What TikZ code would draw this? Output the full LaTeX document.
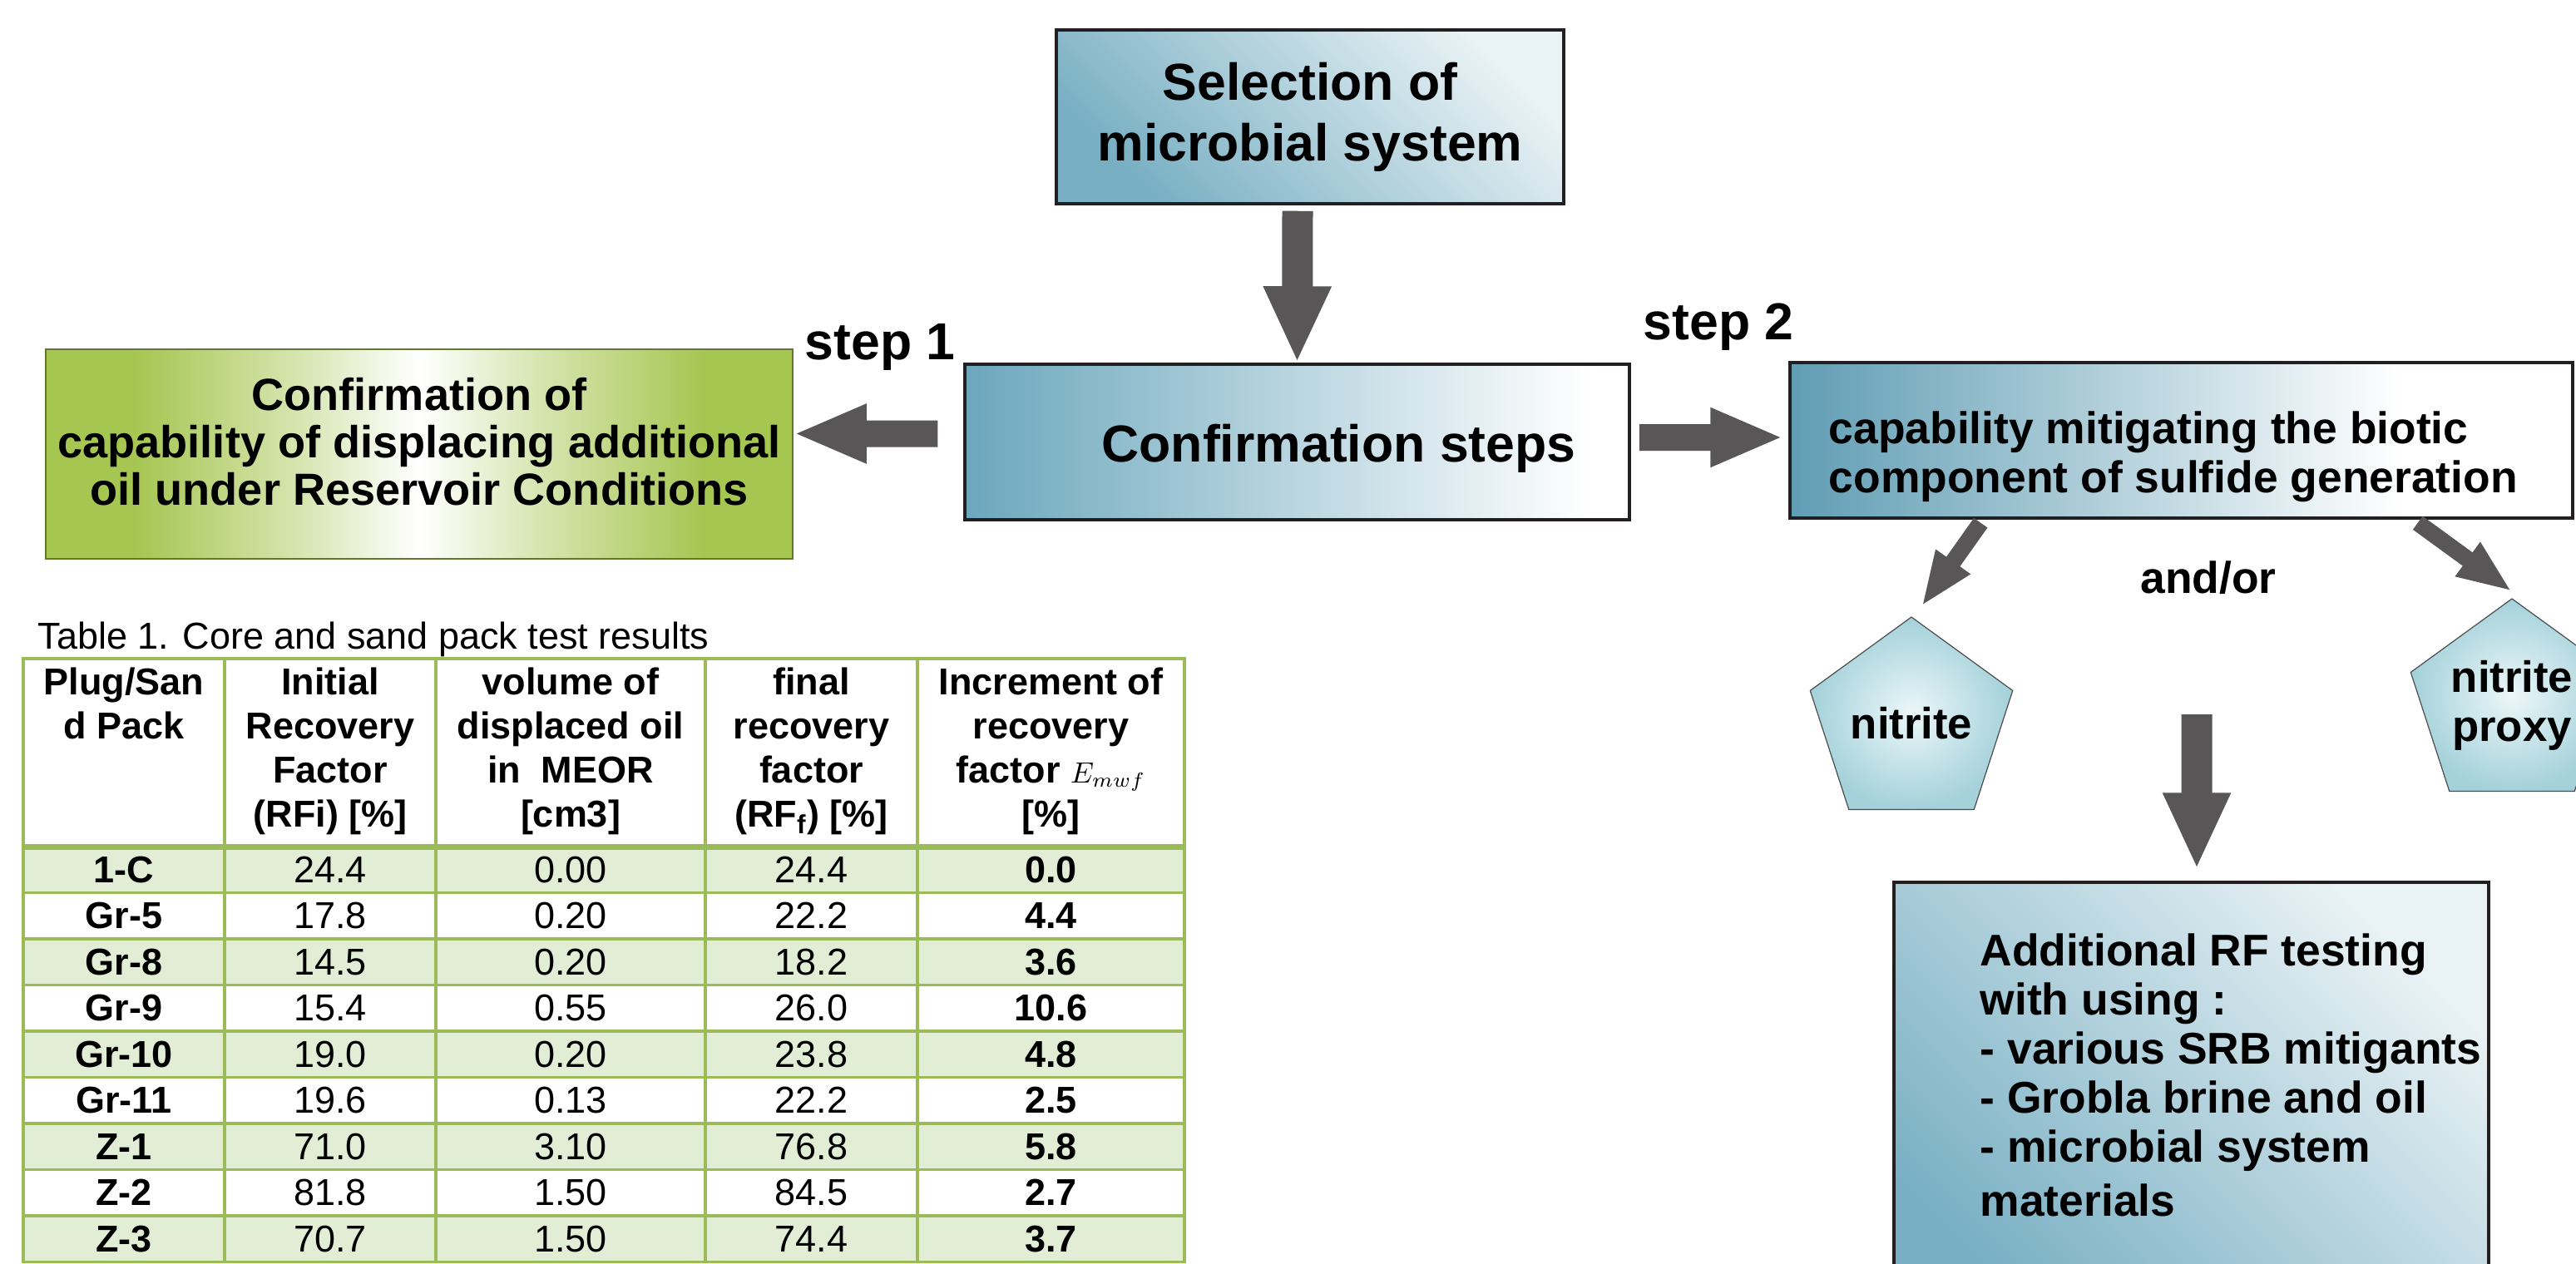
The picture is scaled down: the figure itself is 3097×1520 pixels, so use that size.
\documentclass[tikz,border=0pt]{standalone}
\usepackage{fontspec}
\setmainfont{Liberation Sans}
\usetikzlibrary{shapes.geometric,arrows.meta}

\definecolor{boxgreen}{RGB}{166,198,82}
\definecolor{tealdark}{RGB}{96,157,180}
\definecolor{tealmid}{RGB}{108,167,189}
\definecolor{tealsoft}{RGB}{120,175,195}
\definecolor{tealpale}{RGB}{233,242,245}
\definecolor{pentin}{RGB}{236,247,249}
\definecolor{pentout}{RGB}{164,209,218}
\definecolor{arrowgray}{RGB}{88,86,86}
\definecolor{gridgreen}{RGB}{155,187,89}
\definecolor{rowgreen}{RGB}{226,237,214}
\definecolor{boxline}{RGB}{35,31,32}

\pgfdeclarehorizontalshading{greenglow}{100bp}{color(0bp)=(boxgreen); color(31bp)=(boxgreen); color(42bp)=(boxgreen!45!white); color(50bp)=(white); color(58bp)=(boxgreen!45!white); color(69bp)=(boxgreen); color(100bp)=(boxgreen)}
\pgfdeclarehorizontalshading{capfade}{100bp}{color(0bp)=(tealdark); color(25bp)=(tealdark); color(64bp)=(white); color(100bp)=(white)}
\pgfdeclarehorizontalshading{conffade}{100bp}{color(0bp)=(tealmid); color(25bp)=(tealmid); color(72bp)=(white); color(100bp)=(white)}

\tikzset{
    flowbox/.style={draw=boxline, line width=0.35mm, inner sep=0pt},
    bigtext/.style={font=\fontsize{17.8}{20.8}\selectfont\bfseries, inner sep=0pt},
    midtext/.style={font=\fontsize{15.2}{16.8}\selectfont\bfseries, inner sep=0pt},
    pent/.style={regular polygon, regular polygon sides=5, inner sep=0pt, draw=black!70, line width=0.12mm,
        inner color=pentin, outer color=pentout, align=center, font=\fontsize{15}{16.8}\selectfont\bfseries},
    fatarrow/.style={draw=arrowgray, line width=3.7mm, -{Triangle[width=7.5mm,length=9.2mm]}},
    sidearrow/.style={draw=arrowgray, line width=3.2mm, -{Triangle[width=6.5mm,length=8.8mm]}},
    thinarrow/.style={draw=arrowgray, line width=2mm, -{Triangle[width=4.6mm,length=6.6mm]}},
    tabhead/.style={font=\fontsize{12.8}{15.1}\selectfont\bfseries, align=center, anchor=north, inner sep=0pt},
    tabid/.style={font=\fontsize{12.8}{15}\selectfont\bfseries},
    tabnum/.style={font=\fontsize{12.8}{15}\selectfont},
    tabgrid/.style={draw=gridgreen, line width=0.35mm}
}

\begin{document}
\begin{tikzpicture}[x=0.1mm, y=-0.1mm]
    \useasboundingbox (0,0) rectangle (3097,1520);

    % boxes of the flow chart
    \node[flowbox, bigtext, align=center, minimum width=61mm, minimum height=20.9mm,
        top color=tealpale, bottom color=tealsoft, shading angle=-45] (sel) at (1575,140.5) {Selection of\\microbial system};

    \node[flowbox, minimum width=79.9mm, minimum height=18.7mm, shade, shading=conffade] (conf) at (1559.5,531.5) {};
        \node[bigtext] (conftext) at ([xshift=5mm,yshift=-0.8mm]conf.center) {Confirmation steps};

    \node[flowbox, draw=boxgreen!60!black, line width=0.15mm, minimum width=89.8mm, minimum height=25.2mm,
        shade, shading=greenglow] (green) at (504,546) {};
        \node[midtext, font=\fontsize{15.4}{16.2}\selectfont\bfseries, align=center, anchor=north] (greentext) at (504,454)
            {Confirmation of\\capability of displacing additional\\oil under Reservoir Conditions};

    \node[flowbox, minimum width=94.1mm, minimum height=18.7mm, shade, shading=capfade] (cap) at (2622.5,529.5) {};
        \node[midtext, align=left, anchor=north west] (captext) at (2198,494)
            {capability mitigating the biotic\\component of sulfide generation};

    \node[flowbox, minimum width=71.5mm, minimum height=53.9mm,
        top color=tealpale, bottom color=tealsoft, shading angle=-45] (add) at (2634.5,1330.5) {};
        \node[midtext, align=left, anchor=north west] (addtext) at (2380,1122)
            {Additional RF testing\\with using :\\- various SRB mitigants\\- Grobla brine and oil\\- microbial system\\[0.6mm]materials};

    \node[pent, minimum size=24.6mm] (nit) at (2298,870) {nitrite};
    \node[pent, minimum size=24.4mm] (prox) at (3020,848) {nitrite\\proxy};

    \node[bigtext, anchor=base west] (step1) at (967,432) {step 1};
    \node[bigtext, anchor=base west] (step2) at (1975,408) {step 2};
    \node[midtext] (andor) at (2655,695) {and/or};

    % arrows
    \draw[fatarrow] ([xshift=-1.5mm,yshift=-0.7mm]sel.south) -- (conf.north);
    \draw[sidearrow] ([xshift=-3.1mm,yshift=1mm]conf.west) -- ([yshift=2.45mm]green.east);
    \draw[sidearrow] ([xshift=1mm,yshift=0.55mm]conf.east) -- ([xshift=-0.6mm,yshift=0.35mm]cap.west);
    \draw[thinarrow] ([xshift=23.1mm,yshift=-0.4mm]cap.south west) -- ([xshift=1.2mm,yshift=1.2mm]nit.north);
    \draw[thinarrow] ([xshift=-18.8mm,yshift=-0.4mm]cap.south east) -- ([yshift=0.8mm]prox.north);
    \coordinate (split) at (2641,859);
    \draw[fatarrow] (split) -- ([xshift=0.65mm,yshift=1.4mm]add.north);

    % table
    \node[anchor=base west, inner sep=0pt, font=\fontsize{12.8}{15}\selectfont] (caption) at (45,780)
        {Table 1. Core and sand pack test results};

    \fill[rowgreen] (28,1018) rectangle (1424,1073.5);
    \fill[rowgreen] (28,1129) rectangle (1424,1184.5);
    \fill[rowgreen] (28,1240) rectangle (1424,1295.5);
    \fill[rowgreen] (28,1351) rectangle (1424,1406.5);
    \fill[rowgreen] (28,1462) rectangle (1424,1517.5);

    \draw[tabgrid] (28,792) rectangle (1424,1517.5);
    \draw[tabgrid] (270,792) -- (270,1517.5);
    \draw[tabgrid] (524,792) -- (524,1517.5);
    \draw[tabgrid] (848,792) -- (848,1517.5);
    \draw[tabgrid] (1103,792) -- (1103,1517.5);
    \draw[tabgrid, line width=0.7mm] (28,1018) -- (1424,1018);
    \draw[tabgrid] (28,1073.5) -- (1424,1073.5);
    \draw[tabgrid] (28,1129) -- (1424,1129);
    \draw[tabgrid] (28,1184.5) -- (1424,1184.5);
    \draw[tabgrid] (28,1240) -- (1424,1240);
    \draw[tabgrid] (28,1295.5) -- (1424,1295.5);
    \draw[tabgrid] (28,1351) -- (1424,1351);
    \draw[tabgrid] (28,1406.5) -- (1424,1406.5);
    \draw[tabgrid] (28,1462) -- (1424,1462);

    \node[tabhead] (h1) at (149,802) {Plug/San\\d Pack};
    \node[tabhead] (h2) at (397,802) {Initial\\Recovery\\Factor\\(RFi) [\%]};
    \node[tabhead] (h3) at (686,802) {volume of\\displaced oil\\in~ MEOR\\{}[cm3]};
    \node[tabhead] (h4) at (975.5,802) {final\\recovery\\factor\\(RF\textsubscript{f}) [\%]};
    \node[tabhead] (h5) at (1263.5,802) {Increment of\\recovery\\factor {\fontsize{10}{10}\selectfont$E_{mwf}$}\\{}[\%]};

    \node[tabid] (a1) at (149,1045.75) {1-C};   \node[tabnum] (b1) at (397,1045.75) {24.4}; \node[tabnum] (c1) at (686,1045.75) {0.00}; \node[tabnum] (d1) at (975.5,1045.75) {24.4}; \node[tabid] (e1) at (1263.5,1045.75) {0.0};
    \node[tabid] (a2) at (149,1101.25) {Gr-5};  \node[tabnum] (b2) at (397,1101.25) {17.8}; \node[tabnum] (c2) at (686,1101.25) {0.20}; \node[tabnum] (d2) at (975.5,1101.25) {22.2}; \node[tabid] (e2) at (1263.5,1101.25) {4.4};
    \node[tabid] (a3) at (149,1156.75) {Gr-8};  \node[tabnum] (b3) at (397,1156.75) {14.5}; \node[tabnum] (c3) at (686,1156.75) {0.20}; \node[tabnum] (d3) at (975.5,1156.75) {18.2}; \node[tabid] (e3) at (1263.5,1156.75) {3.6};
    \node[tabid] (a4) at (149,1212.25) {Gr-9};  \node[tabnum] (b4) at (397,1212.25) {15.4}; \node[tabnum] (c4) at (686,1212.25) {0.55}; \node[tabnum] (d4) at (975.5,1212.25) {26.0}; \node[tabid] (e4) at (1263.5,1212.25) {10.6};
    \node[tabid] (a5) at (149,1267.75) {Gr-10}; \node[tabnum] (b5) at (397,1267.75) {19.0}; \node[tabnum] (c5) at (686,1267.75) {0.20}; \node[tabnum] (d5) at (975.5,1267.75) {23.8}; \node[tabid] (e5) at (1263.5,1267.75) {4.8};
    \node[tabid] (a6) at (149,1323.25) {Gr-11}; \node[tabnum] (b6) at (397,1323.25) {19.6}; \node[tabnum] (c6) at (686,1323.25) {0.13}; \node[tabnum] (d6) at (975.5,1323.25) {22.2}; \node[tabid] (e6) at (1263.5,1323.25) {2.5};
    \node[tabid] (a7) at (149,1378.75) {Z-1};   \node[tabnum] (b7) at (397,1378.75) {71.0}; \node[tabnum] (c7) at (686,1378.75) {3.10}; \node[tabnum] (d7) at (975.5,1378.75) {76.8}; \node[tabid] (e7) at (1263.5,1378.75) {5.8};
    \node[tabid] (a8) at (149,1434.25) {Z-2};   \node[tabnum] (b8) at (397,1434.25) {81.8}; \node[tabnum] (c8) at (686,1434.25) {1.50}; \node[tabnum] (d8) at (975.5,1434.25) {84.5}; \node[tabid] (e8) at (1263.5,1434.25) {2.7};
    \node[tabid] (a9) at (149,1489.75) {Z-3};   \node[tabnum] (b9) at (397,1489.75) {70.7}; \node[tabnum] (c9) at (686,1489.75) {1.50}; \node[tabnum] (d9) at (975.5,1489.75) {74.4}; \node[tabid] (e9) at (1263.5,1489.75) {3.7};
\end{tikzpicture}
\end{document}
